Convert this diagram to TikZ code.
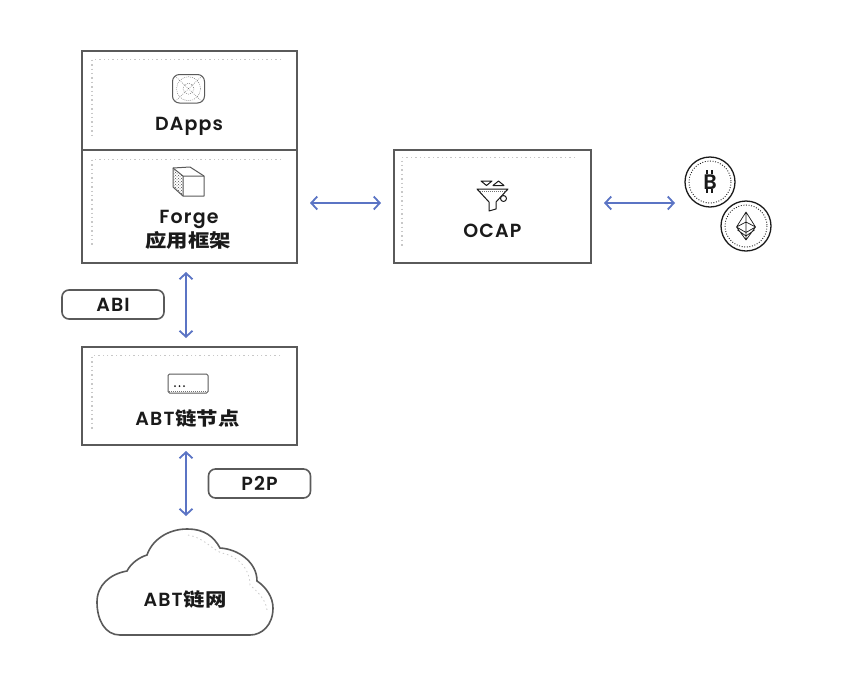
\documentclass[tikz,border=0pt]{standalone}
\usepackage{fontspec}
\setmainfont{Poppins}[LetterSpace=6,BoldFont={Poppins SemiBold}]
\newfontfamily\cjk{Noto Sans CJK SC}[Scale=0.97,FakeStretch=1.16]
\usetikzlibrary{arrows.meta,calc,patterns}
\definecolor{boxline}{HTML}{5A5A5A}
\definecolor{arrowblue}{HTML}{5B74C4}
\definecolor{dotgrey}{HTML}{C8C8C8}
\definecolor{inkdark}{HTML}{1A1A1A}
\tikzset{
  boxnode/.style={draw=boxline,line width=1.7pt,fill=white,inner sep=0pt,outer sep=0pt},
  pill/.style={draw=boxline,line width=1.6pt,rounded corners=7pt,fill=white,inner sep=0pt,outer sep=0pt,minimum width=102pt,minimum height=29pt,text=inkdark,text height=13.3pt,text depth=0pt,font=\fontsize{19}{22}\selectfont\bfseries},
  lbl/.style={inner sep=0pt,anchor=base,text=inkdark,align=center,font=\fontsize{19}{22}\selectfont\bfseries},
  link/.style={draw=arrowblue,line width=1.8pt,{Straight Barb[length=6pt,width=13pt,line width=1.8pt]}-{Straight Barb[length=6pt,width=13pt,line width=1.8pt]}},
  dots/.style={draw=dotgrey,line width=1.5pt,dash pattern=on 1.4pt off 3pt},
  icon/.style={draw=boxline,line width=1pt,line join=round},
  fineicon/.style={draw=black!55,line width=.5pt,dash pattern=on .8pt off 1.2pt},
  coin/.style={circle,draw=inkdark,line width=1.3pt,fill=white,minimum size=50pt,inner sep=0pt,outer sep=0pt},
  coindots/.style={draw=inkdark,line width=.9pt,dash pattern=on .9pt off 1.7pt},
}
\begin{document}
\begin{tikzpicture}[x=1pt,y=-1pt]
\useasboundingbox (0,0) rectangle (860,678);
% boxes
\node[boxnode,minimum width=215pt,minimum height=99pt] (dapps) at (189.5,100.5) {};
\node[boxnode,minimum width=215pt,minimum height=113pt] (forge) at (189.5,206.5) {};
\node[boxnode,minimum width=197pt,minimum height=113pt] (ocap) at (492.5,206.5) {};
\node[boxnode,minimum width=215pt,minimum height=98pt] (abt) at (189.5,396) {};
% dotted corners
\draw[dots] (281,59.5) -- (92,59.5) -- (92,135);
\draw[dots] (281,159.5) -- (92,159.5) -- (92,247);
\draw[dots] (575,157.5) -- (402,157.5) -- (402,248);
\draw[dots] (280,355.5) -- (92,355.5) -- (92,430);
% DApps icon
\draw[icon,rounded corners=7pt] (172.5,74.5) rectangle (204.5,103);
\draw[fineicon] (188.5,88.7) circle (5.5) (188.5,88.7) circle (12);
\draw[fineicon] (175,76) -- (202,101.5) (202,76) -- (175,101.5);
% cube icon
\fill[pattern=crosshatch dots,pattern color=black!70] (173,168) -- (183,176) -- (183,196) -- (173,187) -- cycle;
\draw[icon] (173,168) -- (190,167) -- (204,176) -- (204,196) -- (183,196) -- (173,187) -- cycle;
\draw[icon] (173,168) -- (183,176) -- (204,176) (183,176) -- (183,196);
% ellipsis icon
\draw[icon,rounded corners=1.5pt] (168,374) rectangle (208,393);
\fill[inkdark] (175,386) circle (1) (179.5,386) circle (1) (184,386) circle (1);
\draw[fineicon] (169,391) -- (207,391);
% funnel icon
\draw[icon,draw=inkdark] (481,181) -- (492,181) -- (486.5,185.5) -- cycle;
\draw[icon,draw=inkdark] (493,185.5) -- (504,185.5) -- (498.5,181) -- cycle;
\draw[icon,draw=inkdark] (477,189) -- (508,189) -- (496,202) -- (496,209) -- (489,211) -- (489,202) -- cycle;
\draw[fineicon] (480,191) -- (505,191);
\draw[icon,draw=inkdark,fill=white] (503.5,198.5) circle (3);
% labels
\node[lbl] (t1) at (189,130.8) {DApps};
\node[lbl] (t2) at (189,223.5) {Forge};
\node[lbl] (t3) at (188,247) {\cjk 应用框架};
\node[lbl] (t4) at (492.3,237.7) {OCAP};
\node[lbl] (t5) at (187.5,425) {ABT\kern1pt{\cjk 链节点}};
% pills
\node[pill] (abi) at (113,304.5) {ABI};
\node[pill] (p2p) at (259.5,483.5) {P2P};
% cloud
\draw[draw=boxline,line width=1.6pt,fill=white] (120,635)
  .. controls (105,635) and (97,620) .. (97,602)
  .. controls (97,585) and (110,574) .. (127,571)
  .. controls (131,563) and (140,557) .. (147,555)
  .. controls (152,540) and (168,529) .. (187,529)
  .. controls (205,529) and (214,537) .. (220,548)
  .. controls (238,549) and (257,562) .. (257,581)
  .. controls (266,587) and (273,597) .. (273,608)
  .. controls (273,625) and (262,635) .. (250,635)
  -- cycle;
\draw[dots,line width=.8pt] (188,535) .. controls (205,538) and (212,550) .. (222,553) .. controls (240,557) and (250,570) .. (250,585) .. controls (258,592) and (266,600) .. (267,610);
\node[lbl] (cloud) at (185,606) {ABT\kern1pt{\cjk 链网}};
% coins
\node[coin] (btc) at (710,182) {};
\node[coin] (eth) at (746,226) {};
\draw[coindots] (btc.center) circle (21);
\draw[coindots] (eth.center) circle (21);
\node[inner sep=0pt,anchor=base,text=inkdark,font=\fontsize{21}{22}\selectfont\bfseries] (btcsym) at (710,189) {B};
\draw[inkdark,line width=1.3pt] (707,170) -- (707,173.5) (712,170) -- (712,173.5) (707,189) -- (707,192.5) (712,189) -- (712,192.5);
\draw[inkdark,line width=.7pt,line join=round] (746,212) -- (755.5,227) -- (746,240) -- (736.5,227) -- cycle
  (736.5,227) -- (746,222) -- (755.5,227) -- (746,232.5) -- cycle
  (746,212) -- (746,240) (737.5,230) -- (746,236) -- (754.5,230);
% connectors
\coordinate (coinend) at (675,203);
\coordinate (cloudtop) at (186,516);
\draw[link,shorten <=13pt,shorten >=13pt] ([yshift=3.5pt]forge.east) -- ([yshift=3.5pt]ocap.west);
\draw[link,shorten <=13pt] ([yshift=3.5pt]ocap.east) -- (coinend);
\draw[link,shorten <=9pt,shorten >=9pt] ([xshift=-3.5pt]forge.south) -- ([xshift=-3.5pt]abt.north);
\draw[link,shorten <=6pt] ([xshift=-3.5pt]abt.south) -- (cloudtop);
\end{tikzpicture}
\end{document}
